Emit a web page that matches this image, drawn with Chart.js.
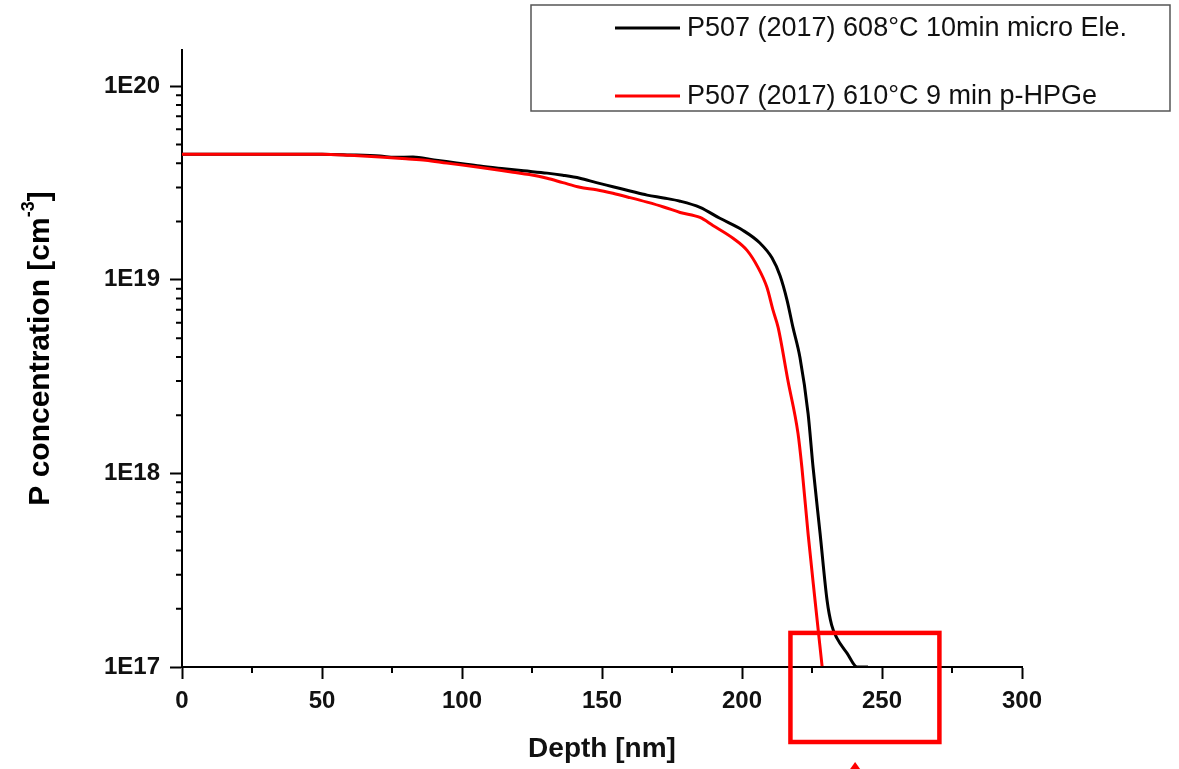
<!DOCTYPE html>
<html>
<head>
<meta charset="utf-8">
<script src="https://cdn.jsdelivr.net/npm/chart.js@4"></script>
<style>
  html, body { margin: 0; padding: 0; background: #fff; }
  canvas { display: block; }
</style>
</head>
<body>
<canvas id="depthChart" width="1179" height="769"></canvas>
<script>
// depth profiles
const depthBlack = [0, 10, 20, 30, 40, 50, 60, 70.7, 76, 82.5, 90, 98, 106.4, 115, 122, 130.4, 136, 142.1, 148, 153.9, 160, 166.1, 172, 177.9, 185, 192.1, 200.4, 206.4, 210.7, 213.6, 216.1, 218.2, 220.7, 223.6, 225.4, 227.9, 230.4, 232, 233.9, 237.5, 241.1, 245];
const concBlack = [4.46e19, 4.46e19, 4.46e19, 4.46e19, 4.46e19, 4.46e19, 4.42e19, 4.36e19, 4.30e19, 4.31e19, 4.16e19, 4.02e19, 3.87e19, 3.75e19, 3.66e19, 3.56e19, 3.47e19, 3.35e19, 3.18e19, 3.03e19, 2.88e19, 2.74e19, 2.65e19, 2.55e19, 2.37e19, 2.08e19, 1.80e19, 1.55e19, 1.30e19, 1.05e19, 7.84e18, 5.68e18, 3.97e18, 2.04e18, 1.07e18, 4.88e17, 2.20e17, 1.65e17, 1.41e17, 1.18e17, 1.0e17, 1.0e17];

const depthRed = [0, 10, 20, 30, 40, 50, 60, 70.7, 80, 87, 94.6, 106, 118.2, 124, 130.4, 136, 142.1, 148, 153.9, 160, 166.1, 172, 177.9, 185, 189.6, 196.8, 201.8, 205.7, 208.9, 211.1, 212.9, 216.4, 220, 221.4, 223.6, 226.1, 228.6];
const concRed = [4.46e19, 4.46e19, 4.46e19, 4.46e19, 4.46e19, 4.46e19, 4.40e19, 4.31e19, 4.22e19, 4.15e19, 4.01e19, 3.82e19, 3.60e19, 3.50e19, 3.35e19, 3.18e19, 3.01e19, 2.92e19, 2.80e19, 2.66e19, 2.52e19, 2.38e19, 2.23e19, 2.10e19, 1.91e19, 1.64e19, 1.42e19, 1.16e19, 9.15e18, 6.95e18, 5.68e18, 3.02e18, 1.61e18, 1.07e18, 4.88e17, 2.20e17, 1.01e17];

const seriesLabels = ['P507 (2017) 608°C 10min micro Ele.', 'P507 (2017) 610°C 9 min p-HPGe'];
const seriesColors = ['#000000', '#ff0000'];

const xTicks = [0, 50, 100, 150, 200, 250, 300];
const yTicks = [1e17, 1e18, 1e19, 1e20];

// highlighted region (depth range) and arrow
const boxDepth = [217.3, 270.5];
const boxTopConc = 1.5e17;
const arrowDepth = 240.4;

const FONT = "'Liberation Sans', Arial, sans-serif";

function toPoints(xs, ys) {
  return xs.map((x, i) => ({ x: x, y: ys[i] }));
}
function isDecade(v) {
  const l = Math.log10(v);
  return Math.abs(l - Math.round(l)) < 1e-9;
}

const extras = {
  id: 'extras',
  afterDraw(chart) {
    const c = chart.ctx;
    const xs = chart.scales.x, ys = chart.scales.y;
    const area = chart.chartArea;

    // minor ticks
    c.save();
    c.strokeStyle = '#000';
    c.lineWidth = 2;
    c.beginPath();
    for (let v = 25; v < 300; v += 50) {
      const px = xs.getPixelForValue(v);
      c.moveTo(px, area.bottom);
      c.lineTo(px, area.bottom + 6);
    }
    for (let d = 17; d <= 20; d++) {
      for (let m = 2; m <= 9; m++) {
        const v = m * Math.pow(10, d);
        if (v > ys.max) break;
        const py = ys.getPixelForValue(v);
        c.moveTo(area.left, py);
        c.lineTo(area.left - 6, py);
      }
    }
    c.stroke();
    c.restore();

    // y axis title with superscript
    c.save();
    c.translate(41, (area.top + area.bottom) / 2 - 10);
    c.rotate(-Math.PI / 2);
    c.fillStyle = '#000';
    c.textBaseline = 'middle';
    const big = 'bold 30px ' + FONT, small = 'bold 18px ' + FONT;
    const p1 = 'P concentration [cm', p2 = '-3', p3 = ']';
    c.font = big;
    const w1 = c.measureText(p1).width, w3 = c.measureText(p3).width;
    c.font = small;
    const w2 = c.measureText(p2).width;
    let x0 = -(w1 + w2 + w3) / 2;
    c.font = big;
    c.fillText(p1, x0, 0);
    c.font = small;
    c.fillText(p2, x0 + w1, -12);
    c.font = big;
    c.fillText(p3, x0 + w1 + w2, 0);
    c.restore();

    // legend box
    c.save();
    c.strokeStyle = '#555';
    c.lineWidth = 1.5;
    c.strokeRect(531, 5, 639, 106);
    c.font = '27px ' + FONT;
    c.textBaseline = 'middle';
    const rows = [28, 96];
    seriesLabels.forEach((lab, i) => {
      c.strokeStyle = seriesColors[i];
      c.lineWidth = 3;
      c.beginPath();
      c.moveTo(615, rows[i]);
      c.lineTo(680, rows[i]);
      c.stroke();
      c.fillStyle = '#111';
      c.fillText(lab, 687, rows[i] + 1);
    });
    c.restore();

    // red highlight box and arrow
    c.save();
    c.strokeStyle = '#ff0000';
    c.lineWidth = 4.5;
    const bx0 = xs.getPixelForValue(boxDepth[0]);
    const bx1 = xs.getPixelForValue(boxDepth[1]);
    const by0 = ys.getPixelForValue(boxTopConc);
    const by1 = area.bottom + 75;
    c.strokeRect(bx0, by0, bx1 - bx0, by1 - by0);
    const ax = xs.getPixelForValue(arrowDepth);
    c.fillStyle = '#ff0000';
    c.beginPath();
    c.moveTo(ax, chart.height - 7);
    c.lineTo(ax - 5, chart.height);
    c.lineTo(ax + 5, chart.height);
    c.closePath();
    c.fill();
    c.restore();
  }
};

new Chart(document.getElementById('depthChart'), {
  type: 'line',
  data: {
    datasets: [{
      label: seriesLabels[0],
      data: toPoints(depthBlack, concBlack),
      borderColor: seriesColors[0],
      borderWidth: 3,
      pointRadius: 0,
      cubicInterpolationMode: 'monotone',
      order: 1
    }, {
      label: seriesLabels[1],
      data: toPoints(depthRed, concRed),
      borderColor: seriesColors[1],
      borderWidth: 3,
      pointRadius: 0,
      cubicInterpolationMode: 'monotone',
      order: 0
    }]
  },
  options: {
    responsive: false,
    animation: false,
    layout: { padding: { left: 0, top: 50, right: 157, bottom: 0 } },
    plugins: {
      legend: { display: false },
      tooltip: { enabled: false }
    },
    scales: {
      x: {
        type: 'linear',
        min: 0,
        max: 300,
        afterFit(scale) { scale.height = 102; },
        border: { display: true, color: '#000', width: 2 },
        grid: {
          drawOnChartArea: false,
          drawTicks: true,
          tickLength: 12,
          tickWidth: 2,
          tickColor: (ctx) => (ctx.tick && xTicks.includes(ctx.tick.value)) ? '#000' : 'rgba(0,0,0,0)'
        },
        ticks: {
          stepSize: 25,
          autoSkip: false,
          maxRotation: 0,
          padding: 8,
          color: '#111',
          font: { family: FONT, size: 24, weight: 'bold' },
          callback: (v) => xTicks.includes(v) ? String(v) : ''
        },
        title: {
          display: true,
          text: 'Depth [nm]',
          color: '#111',
          font: { family: FONT, size: 28, weight: 'bold' },
          padding: { top: 0, bottom: 3 }
        }
      },
      y: {
        type: 'logarithmic',
        min: 1e17,
        max: 1.54e20,
        afterFit(scale) { scale.width = 182; },
        border: { display: true, color: '#000', width: 2 },
        grid: {
          drawOnChartArea: false,
          drawTicks: true,
          tickLength: 12,
          tickWidth: 2,
          tickColor: (ctx) => (ctx.tick && isDecade(ctx.tick.value)) ? '#000' : 'rgba(0,0,0,0)'
        },
        ticks: {
          autoSkip: false,
          padding: 10,
          color: '#111',
          font: { family: FONT, size: 24, weight: 'bold' },
          callback: (v) => {
            const hit = yTicks.find(t => Math.abs(v / t - 1) < 1e-9);
            return hit ? '1E' + Math.round(Math.log10(hit)) : '';
          }
        }
      }
    }
  },
  plugins: [extras]
});
</script>
</body>
</html>
